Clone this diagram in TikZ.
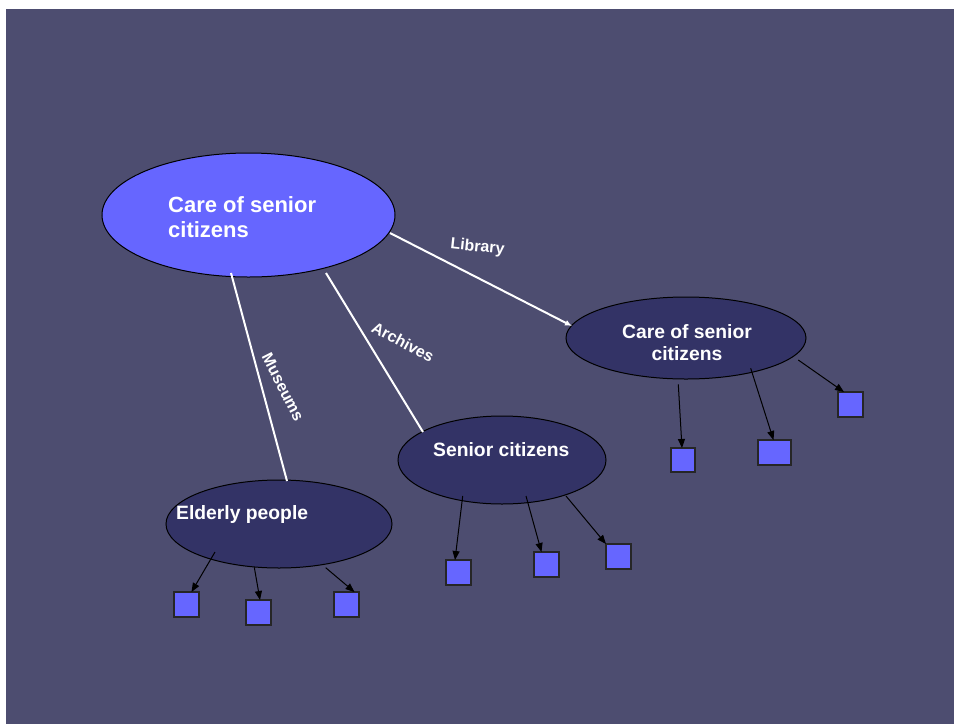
\documentclass[tikz,border=0pt]{standalone}
\usepackage{fontspec}
\setmainfont{Liberation Sans}
\usetikzlibrary{shapes.geometric,arrows.meta}
\definecolor{bgc}{RGB}{77,77,112}
\definecolor{bright}{RGB}{102,102,255}
\definecolor{darkell}{RGB}{51,51,102}
\tikzset{
 bigell/.style={ellipse, draw=black, line width=1pt, fill=bright, inner sep=0pt, outer sep=0pt},
 subell/.style={ellipse, draw=black, line width=1pt, fill=darkell, inner sep=0pt, outer sep=0pt},
 sq/.style={rectangle, draw=black!85, line width=1.3pt, fill=bright, minimum width=25pt, minimum height=25pt, inner sep=0pt, outer sep=0pt},
 lbl/.style={text=white, font=\fontsize{16pt}{19pt}\selectfont\bfseries, inner sep=0pt},
 hd/.style={text=white, font=\fontsize{19.3pt}{23pt}\selectfont\bfseries, inner sep=0pt},
 hdbig/.style={text=white, font=\fontsize{22pt}{26pt}\selectfont\bfseries, inner sep=0pt},
 link/.style={draw=white, line width=2pt},
 sub/.style={draw=black, line width=1pt, -{Triangle[length=9pt,width=7pt]}},
}
\begin{document}
\begin{tikzpicture}[x=1pt,y=-1pt]
\fill[white] (0,0) rectangle (954,724);
\useasboundingbox (0,0) rectangle (954,724);
\fill[bgc] (6,9) rectangle (954,724);

% ellipses
\node[bigell, minimum width=293pt, minimum height=124pt] (big) at (248.5,215) {};
\node[subell, minimum width=240pt, minimum height=82pt] (rt) at (686,338) {};
\node[subell, minimum width=226pt, minimum height=88pt] (eld) at (279,524) {};
\node[subell, minimum width=208pt, minimum height=88pt] (sen) at (502,460) {};

% squares
\node[sq] (e1) at (186.5,604.5) {};
\node[sq] (e2) at (258.5,612.5) {};
\node[sq] (e3) at (346.5,604.5) {};
\node[sq] (s1) at (458.5,572.5) {};
\node[sq] (s2) at (546.5,564.5) {};
\node[sq] (s3) at (618.5,556.5) {};
\node[sq, minimum width=24pt, minimum height=24pt] (r1) at (683,460) {};
\node[sq, minimum width=33pt] (r2) at (774.5,452.5) {};
\node[sq] (r3) at (850.5,404.5) {};

% white links
\draw[link] ([shift={(-17.5,58)}]big.center) -- ([shift={(8,-43)}]eld.center);
\draw[link] ([shift={(77.5,58)}]big.center) -- ([shift={(-79,-28)}]sen.center);
\draw[link, -{Latex[length=7pt,width=6pt]}] ([shift={(141.5,18)}]big.center) -- ([shift={(-114,-12)}]rt.center);

% black arrows
\draw[sub] ([shift={(-64,28)}]eld.center) -- ([xshift=5pt]e1.north);
\draw[sub] ([shift={(-24.7,43.3)}]eld.center) -- ([xshift=1.5pt]e2.north);
\draw[sub] ([shift={(46.7,43.7)}]eld.center) -- ([xshift=8pt]e3.north);
\draw[sub] ([shift={(-39.3,36)}]sen.center) -- ([xshift=-3.5pt]s1.north);
\draw[sub] ([shift={(24,36)}]sen.center) -- ([xshift=-5pt]s2.north);
\draw[sub] ([shift={(64,36)}]sen.center) -- (s3.north west);
\draw[sub] ([shift={(-7.7,46.3)}]rt.center) -- ([xshift=-1pt]r1.north);
\draw[sub] ([shift={(64.7,30.3)}]rt.center) -- ([xshift=-1pt]r2.north);
\draw[sub] ([shift={(112.3,22)}]rt.center) -- ([xshift=-6.5pt]r3.north);

% texts
\node[hdbig, anchor=base west] (t1a) at (168,212) {Care of senior};
\node[hdbig, anchor=base west] (t1b) at (168,237.5) {citizens};
\node[hd, anchor=base] (t2a) at (687,338) {Care of senior};
\node[hd, anchor=base] (t2b) at (687,360) {citizens};
\node[hd, anchor=base west] (t3) at (176,519) {Elderly people};
\node[hd, anchor=base west] (t4) at (433,456) {Senior citizens};

% labels
\node[lbl, anchor=base, rotate=-6] (l1) at (477,251.5) {Library};
\node[lbl, rotate=-28] (l2) at (403,342) {Archives};
\node[lbl, rotate=-63] (l3) at (283,387) {Museums};
\end{tikzpicture}
\end{document}
